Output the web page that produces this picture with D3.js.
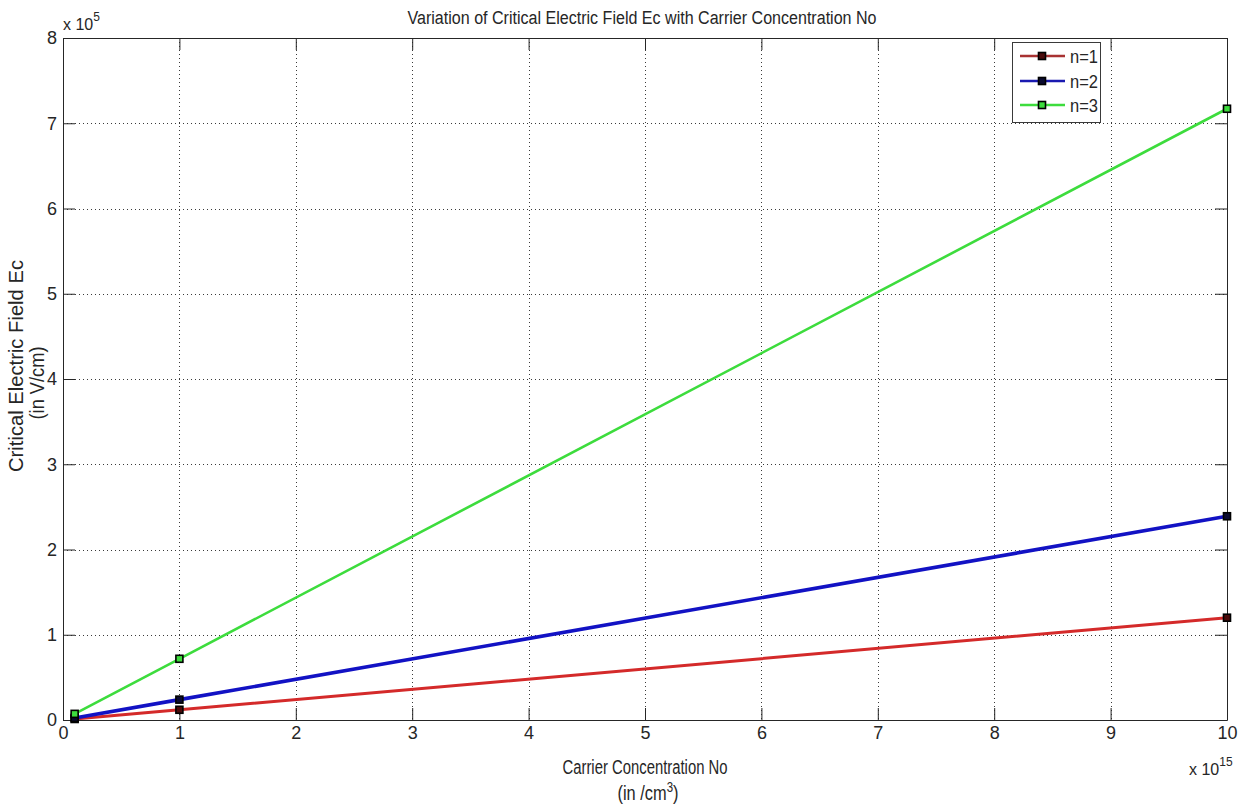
<!DOCTYPE html>
<html>
<head>
<meta charset="utf-8">
<script src="https://cdn.jsdelivr.net/npm/d3@7"></script>
<style>
  html, body { margin: 0; padding: 0; background: #fff; }
  svg { display: block; }
  text { font-family: "Liberation Sans Narrow", "Liberation Sans", Arial, sans-serif; fill: #262626; }
</style>
</head>
<body>
<div id="chart"></div>
<script>
// carrier concentration (x 1e15 /cm^3)
const concentration = [0.1, 1, 10]
// critical field (x 1e5 V/cm) per n
const fieldN1 = [0.012, 0.12, 1.2]
const fieldN2 = [0.024, 0.239, 2.39]
const fieldN3 = [0.072, 0.718, 7.17]
const seriesNames = ['n=1', 'n=2', 'n=3']
const xTicks = [0, 1, 2, 3, 4, 5, 6, 7, 8, 9, 10]
const yTicks = [0, 1, 2, 3, 4, 5, 6, 7, 8]

const series = [
  { name: seriesNames[0], values: fieldN1, color: '#d42a2a', legendColor: '#a83232', marker: '#4a0a0a', width: 3 },
  { name: seriesNames[1], values: fieldN2, color: '#1212c4', legendColor: '#1a1ab0', marker: '#0a0a30', width: 3.6 },
  { name: seriesNames[2], values: fieldN3, color: '#3ddc3d', legendColor: '#3ddc3d', marker: '#3ddc3d', width: 2.6 },
]

const W = 1240, H = 805
const plot = { left: 63, right: 1227, top: 38, bottom: 720 }

const svg = d3.select('#chart').append('svg')
  .attr('width', W).attr('height', H)

const x = d3.scaleLinear().domain([0, 10]).range([plot.left, plot.right])
const y = d3.scaleLinear().domain([0, 8]).range([plot.bottom, plot.top])

// grid
const grid = svg.append('g')
  .attr('stroke', '#3a3a3a').attr('stroke-width', 1).attr('stroke-dasharray', '1,3')
grid.selectAll('.gx').data(xTicks.slice(1, -1)).join('line')
  .attr('x1', (d) => Math.round(x(d)) + 0.5).attr('x2', (d) => Math.round(x(d)) + 0.5)
  .attr('y1', plot.top).attr('y2', plot.bottom)
grid.selectAll('.gy').data(yTicks.slice(1, -1)).join('line')
  .attr('y1', (d) => Math.round(y(d)) + 0.5).attr('y2', (d) => Math.round(y(d)) + 0.5)
  .attr('x1', plot.left).attr('x2', plot.right)

// axes with inward ticks on all four sides
const tick = 12
const fmt = d3.format('d')
svg.append('g').attr('transform', `translate(0,${plot.bottom})`)
  .call(d3.axisBottom(x).tickValues(xTicks).tickFormat(fmt).tickSizeInner(-tick).tickSizeOuter(0).tickPadding(6))
svg.append('g').attr('transform', `translate(0,${plot.top})`)
  .call(d3.axisTop(x).tickValues(xTicks).tickFormat('').tickSizeInner(-tick).tickSizeOuter(0))
svg.append('g').attr('transform', `translate(${plot.left},0)`)
  .call(d3.axisLeft(y).tickValues(yTicks).tickFormat(fmt).tickSizeInner(-tick).tickSizeOuter(0).tickPadding(6))
svg.append('g').attr('transform', `translate(${plot.right},0)`)
  .call(d3.axisRight(y).tickValues(yTicks).tickFormat('').tickSizeInner(-tick).tickSizeOuter(0))

svg.selectAll('.domain').attr('stroke', '#262626')
svg.selectAll('.tick line').attr('stroke', '#262626')
svg.selectAll('.tick text').attr('font-size', 18).attr('fill', '#262626')
  .style('font-family', '"Liberation Sans Narrow", "Liberation Sans", Arial, sans-serif')

// lines and markers
const line = d3.line().x((d, i) => x(concentration[i])).y((d) => y(d))
series.forEach((s) => {
  svg.append('path').datum(s.values)
    .attr('d', line).attr('fill', 'none')
    .attr('stroke', s.color).attr('stroke-width', s.width)
})
series.forEach((s) => {
  svg.append('g').selectAll('rect').data(s.values).join('rect')
    .attr('x', (d, i) => x(concentration[i]) - 3.5).attr('y', (d) => y(d) - 3.5)
    .attr('width', 7).attr('height', 7)
    .attr('fill', s.marker).attr('stroke', '#000').attr('stroke-width', 1.6)
})

// legend
const leg = svg.append('g')
leg.append('rect').attr('x', 1012.5).attr('y', 42.5).attr('width', 88).attr('height', 80)
  .attr('fill', '#fff').attr('stroke', '#3a3a3a').attr('stroke-width', 1)
const legY = [56, 81, 105]
series.forEach((s, i) => {
  const g = leg.append('g')
  g.append('line').attr('x1', 1020).attr('x2', 1065).attr('y1', legY[i]).attr('y2', legY[i])
    .attr('stroke', s.legendColor).attr('stroke-width', 2.5)
  g.append('rect').attr('x', 1042 - 3.5).attr('y', legY[i] - 3.5).attr('width', 7).attr('height', 7)
    .attr('fill', s.marker).attr('stroke', '#000').attr('stroke-width', 1.6)
  g.append('text').attr('x', 1070).attr('y', legY[i] + 7).attr('font-size', 19)
    .attr('textLength', 28).attr('lengthAdjust', 'spacingAndGlyphs').text(s.name)
})

// titles
svg.append('text').attr('x', 642).attr('y', 24).attr('text-anchor', 'middle')
  .attr('font-size', 18).attr('textLength', 469).attr('lengthAdjust', 'spacingAndGlyphs')
  .text('Variation of Critical Electric Field Ec with Carrier Concentration No')

svg.append('text').attr('transform', 'translate(23,366) rotate(-90)').attr('text-anchor', 'middle')
  .attr('font-size', 21).attr('textLength', 212).attr('lengthAdjust', 'spacingAndGlyphs')
  .text('Critical Electric Field Ec')
svg.append('text').attr('transform', 'translate(44,383) rotate(-90)').attr('text-anchor', 'middle')
  .attr('font-size', 21).attr('textLength', 73).attr('lengthAdjust', 'spacingAndGlyphs')
  .text('(in V/cm)')

svg.append('text').attr('x', 645).attr('y', 774).attr('text-anchor', 'middle')
  .attr('font-size', 20).attr('textLength', 165).attr('lengthAdjust', 'spacingAndGlyphs')
  .text('Carrier Concentration No')
const unit = svg.append('text').attr('transform', 'translate(648,800) scale(0.82,1)')
  .attr('text-anchor', 'middle').attr('font-size', 20)
unit.append('tspan').text('(in /cm')
unit.append('tspan').attr('dy', -8).attr('font-size', 14).text('3')
unit.append('tspan').attr('dy', 8).text(')')

// exponent labels
const e5 = svg.append('text').attr('x', 63).attr('y', 30).attr('font-size', 16)
e5.append('tspan').text('x 10')
e5.append('tspan').attr('dy', -9).attr('font-size', 12).text('5')
const e15 = svg.append('text').attr('x', 1189).attr('y', 775).attr('font-size', 16)
e15.append('tspan').text('x 10')
e15.append('tspan').attr('dy', -9).attr('font-size', 12).text('15')
</script>
</body>
</html>
